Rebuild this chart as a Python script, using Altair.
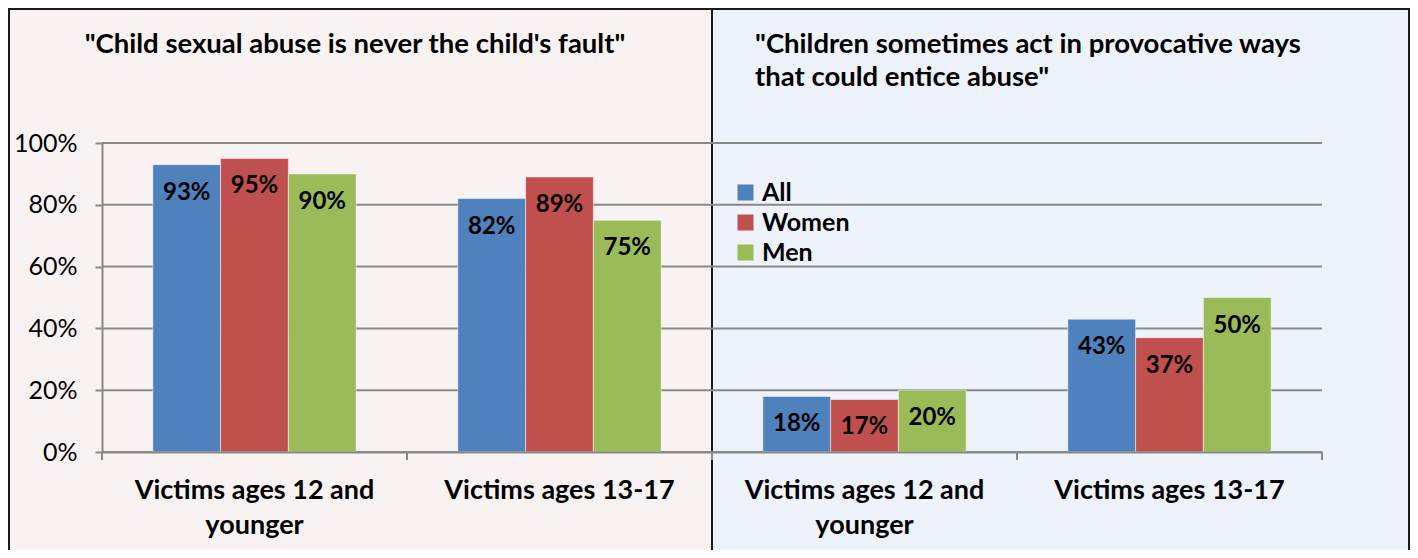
import altair as alt
import pandas as pd

# ---- data ----
panel_titles = ["\"Child sexual abuse is never the child's fault\"",
                "\"Children sometimes act in provocative ways",
                "that could entice abuse\""]
ages = ["Victims ages 12 and younger", "Victims ages 13-17"]
series = ["All", "Women", "Men"]
colors = ["#4F81BD", "#C0504D", "#9BBB59"]
never_12 = [93, 95, 90]
never_13 = [82, 89, 75]
provoc_12 = [18, 17, 20]
provoc_13 = [43, 37, 50]
y_ticks = [0, 20, 40, 60, 80, 100]

FONT = "Lato"
W, H = 1220, 309

groups = []
rows = []
for p, age, vals in [(0, ages[0], never_12), (0, ages[1], never_13),
                     (1, ages[0], provoc_12), (1, ages[1], provoc_13)]:
    g = f"{age}#{p}"
    groups.append(g)
    for s, v in zip(series, vals):
        rows.append({"group": g, "series": s, "value": v})
df = pd.DataFrame(rows)
grp_df = pd.DataFrame({"group": groups})
grid_df = pd.DataFrame({"value": y_ticks})
one = pd.DataFrame({"a": [0]})

xenc_axis = alt.X(
    "group:N", sort=groups,
    scale=alt.Scale(paddingInner=0, paddingOuter=0),
    axis=alt.Axis(
        title=None, ticks=False, labelAngle=0, labelFont=FONT, labelFontSize=27,
        labelFontWeight="bold", labelColor="black", labelPadding=25,
        labelLineHeight=35, labelLimit=0, labelBaseline="top",
        domainColor="#888888", domainWidth=2, zindex=1,
        labelExpr="split(replace(split(datum.label, '#')[0], ' and ', ' and\\n'), '\\n')",
    ),
)
xoff = alt.XOffset("series:N", sort=series,
                   scale=alt.Scale(paddingInner=0, paddingOuter=0.75))
y_axis = alt.Axis(
    title=None, values=y_ticks, labelExpr="datum.value + '%'", grid=False,
    domainColor="#888888", domainWidth=2, tickColor="#888888", tickWidth=2,
    tickSize=7, labelFont=FONT, labelFontSize=25, labelColor="black",
    labelPadding=18, zindex=1,
)
y_scale = alt.Scale(domain=[0, 100], nice=False)

bg_left = alt.Chart(one).mark_rect(
    fill="#F8F2F2", stroke="#1a1a1a", strokeWidth=2
).encode(x=alt.value(-93), x2=alt.value(610), y=alt.value(-134), y2=alt.value(430))

bg_right = alt.Chart(one).mark_rect(
    fill="#EEF2FA", stroke="#1a1a1a", strokeWidth=2
).encode(x=alt.value(610), x2=alt.value(1307), y=alt.value(-134), y2=alt.value(430))

grid = alt.Chart(grid_df).mark_rule(color="#888888", strokeWidth=2).encode(
    y=alt.Y("value:Q", scale=y_scale, axis=y_axis), x=alt.value(0), x2=alt.value(W)
)

bars = alt.Chart(df).mark_bar(
    stroke="white", strokeWidth=1, strokeOpacity=0.5
).encode(
    x=xenc_axis, xOffset=xoff,
    y=alt.Y("value:Q", scale=y_scale, axis=y_axis),
    color=alt.Color(
        "series:N", scale=alt.Scale(domain=series, range=colors),
        legend=alt.Legend(
            title=None, orient="none", legendX=631, legendY=37,
            symbolType="square", symbolSize=256, symbolStrokeWidth=0,
            labelFont=FONT, labelFontSize=25, labelFontWeight="bold",
            labelColor="black", rowPadding=4, labelOffset=4, padding=0,
        ),
    ),
)

labels = alt.Chart(df).transform_calculate(
    label="datum.value + '%'"
).mark_text(
    dy=28, font=FONT, fontSize=24, fontWeight="bold", color="black",
    baseline="middle", align="center"
).encode(
    x=alt.X("group:N", sort=groups), xOffset=xoff,
    y=alt.Y("value:Q", scale=y_scale, axis=y_axis), text="label:N"
)

ticks = alt.Chart(grp_df).mark_rule(color="#888888", strokeWidth=2).encode(
    x=alt.X("group:N", sort=groups, bandPosition=0),
    y=alt.value(H), y2=alt.value(H + 8)
)
end_tick = alt.Chart(one).mark_rule(color="#888888", strokeWidth=2).encode(
    x=alt.value(W), y=alt.value(H), y2=alt.value(H + 8)
)

title_style = dict(font=FONT, fontSize=27.5, fontWeight="bold", color="black",
                   baseline="middle")
title_left = alt.Chart(one).mark_text(align="center", **title_style).encode(
    x=alt.value(253), y=alt.value(-98), text=alt.value(panel_titles[0]))
title_right1 = alt.Chart(one).mark_text(align="left", **title_style).encode(
    x=alt.value(653), y=alt.value(-98), text=alt.value(panel_titles[1]))
title_right2 = alt.Chart(one).mark_text(align="left", **title_style).encode(
    x=alt.value(653), y=alt.value(-65), text=alt.value(panel_titles[2]))

chart = alt.layer(
    bg_left, bg_right, grid, bars, labels, ticks, end_tick,
    title_left, title_right1, title_right2
).properties(
    width=W, height=H,
    autosize=alt.AutoSizeParams(type="none"),
    padding={"left": 94, "top": 135, "right": 88, "bottom": 98},
    background="white",
).configure_view(stroke=None)

chart.save("out.html", embed_options={"renderer": "svg", "actions": False})
